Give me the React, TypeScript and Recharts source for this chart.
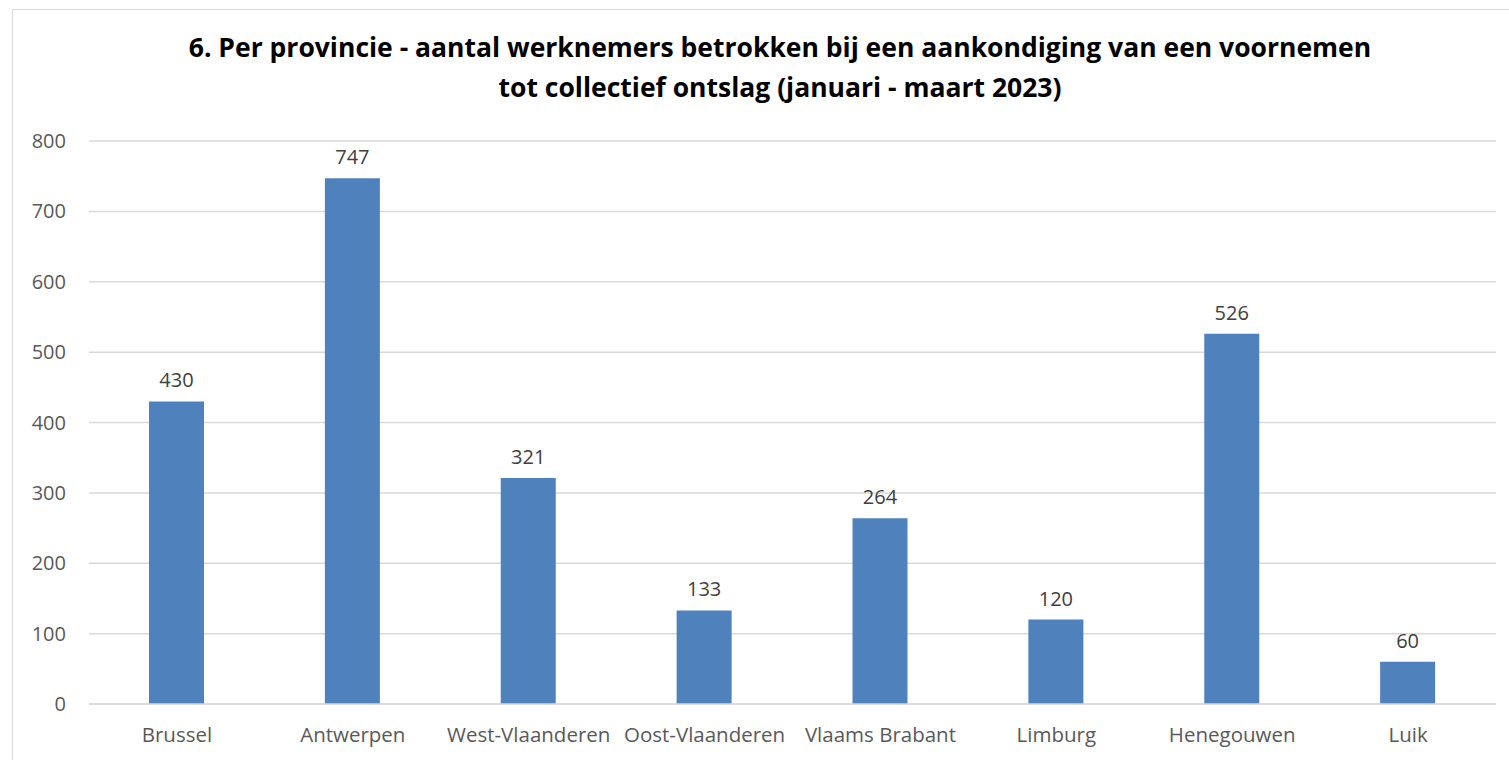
import React from "react";
import { BarChart, Bar, XAxis, YAxis, CartesianGrid, LabelList } from "recharts";

const categories = ["Brussel", "Antwerpen", "West-Vlaanderen", "Oost-Vlaanderen", "Vlaams Brabant", "Limburg", "Henegouwen", "Luik"];
const values = [430, 747, 321, 133, 264, 120, 526, 60];
const yTicks = [0, 100, 200, 300, 400, 500, 600, 700, 800];
const titleLines = [
  "6. Per provincie - aantal werknemers betrokken bij een aankondiging van een voornemen",
  "tot collectief ontslag (januari - maart 2023)",
];

const data = categories.map((name, i) => ({ name, value: values[i] }));
const FONT = "'Open Sans', 'Noto Sans', sans-serif";

export default function App() {
  return (
    <div style={{ position: "absolute", left: 0, top: 0, width: 1509, height: 760, overflow: "hidden", background: "#fff", fontFamily: FONT }}>
      <div style={{ position: "absolute", left: 12, top: 9, width: 1520, height: 800, border: "1px solid #d9d9d9", boxSizing: "border-box" }} />
      <div style={{ position: "absolute", left: 0, top: 27, width: 1560, textAlign: "center", fontWeight: 700, fontSize: 26.5, lineHeight: "40px", color: "#000" }}>
        {titleLines.map((t) => (
          <div key={t}>{t}</div>
        ))}
      </div>
      <div style={{ position: "absolute", left: 0, top: 0 }}>
        <BarChart width={1509} height={760} data={data} margin={{ top: 141, right: 13, bottom: 26, left: 0 }} barSize={55}>
          <CartesianGrid horizontal vertical={false} stroke="#d9d9d9" strokeWidth={1.5} />
          <XAxis
            dataKey="name"
            axisLine={{ stroke: "#d9d9d9", strokeWidth: 1.5 }}
            tickLine={false}
            tickSize={0}
            tickMargin={23}
            height={30}
            interval={0}
            tick={{ fill: "#595959", fontSize: 20.5, fontFamily: FONT }}
          />
          <YAxis
            domain={[0, 800]}
            ticks={yTicks}
            axisLine={false}
            tickLine={false}
            tickSize={0}
            tickMargin={23}
            width={89}
            tick={{ fill: "#595959", fontSize: 20, fontFamily: FONT }}
          />
          <Bar dataKey="value" fill="#4f81bd" isAnimationActive={false}>
            <LabelList dataKey="value" position="top" offset={14} fill="#404040" fontSize={20} fontFamily={FONT} />
          </Bar>
        </BarChart>
      </div>
    </div>
  );
}
